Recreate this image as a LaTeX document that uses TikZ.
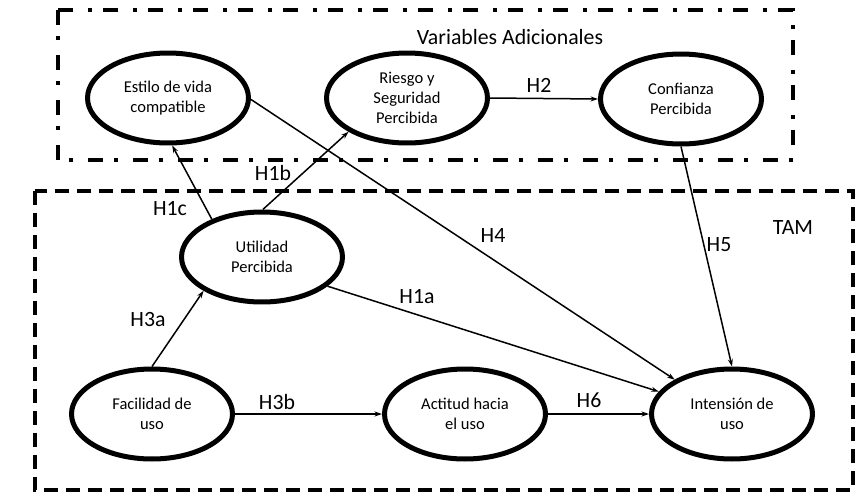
\documentclass[tikz,border=0pt]{standalone}
\usepackage{fontspec}
\setmainfont{Carlito}
\usetikzlibrary{shapes.geometric,arrows.meta,positioning}

\begin{document}
\begin{tikzpicture}[
    x=0.02cm, y=-0.02cm,
    construct/.style={ellipse, draw, line width=0.1cm, minimum width=3.22cm, minimum height=1.8cm, align=center, inner sep=0pt, font=\fontsize{9.4}{11.4}\selectfont},
    hyp/.style={font=\fontsize{12.4}{14}\selectfont},
    link/.style={line width=0.03cm, -{Stealth[length=0.15cm, width=0.1cm]}},
    grupo/.style={line width=0.08cm}
]
\useasboundingbox (0,0) rectangle (859,498);

% Variables Adicionales
\draw[grupo, dash pattern=on 0.3cm off 0.22cm on 0.08cm off 0.3cm] (58,10) rectangle (793,160);
\node[hyp] (adic) at (510,37) {Variables Adicionales};
\node[construct] (estilo) at (168,98) {Estilo de vida\\compatible};
\node[construct] (riesgo) at (407,98) {Riesgo y\\Seguridad\\Percibida};
\node[construct] (conf) at (681,99) {Confianza\\Percibida};

% TAM
\draw[grupo, dash pattern=on 0.28cm off 0.16cm] (35,191) rectangle (853,490);
\node[hyp] (tam) at (793,228) {TAM};
\node[construct] (util) at (262,257) {Utilidad\\Percibida};
\node[construct] (facil) at (152,414) {Facilidad de\\uso};
\node[construct] (actit) at (465,414) {Actitud hacia\\el uso};
\node[construct] (intens) at (732,414) {Intensión de\\uso};

% hipotesis
\draw[link] (util.143) -- (estilo.275);
\draw[link] (util.89) -- (riesgo.210);
\draw[link] (estilo.359) -- (intens.149);
\draw[link] (riesgo.east) -- (conf.west);
\draw[link] (conf.270) -- (intens.90);
\draw[link] (util.336) -- (intens.163);
\draw[link] (facil.90) -- (util.210);
\draw[link] (facil.east) -- (actit.west);
\draw[link] (actit.east) -- (intens.west);

\node[hyp] (h1c) at (170,209) {H1c};
\node[hyp] (h1b) at (273,173) {H1b};
\node[hyp] (h2) at (539,85) {H2};
\node[hyp] (h4) at (493,235) {H4};
\node[hyp] (h5) at (719,245) {H5};
\node[hyp] (h1a) at (417,297) {H1a};
\node[hyp] (h3a) at (148,320) {H3a};
\node[hyp] (h3b) at (277,402) {H3b};
\node[hyp] (h6) at (589,400) {H6};

\end{tikzpicture}
\end{document}
